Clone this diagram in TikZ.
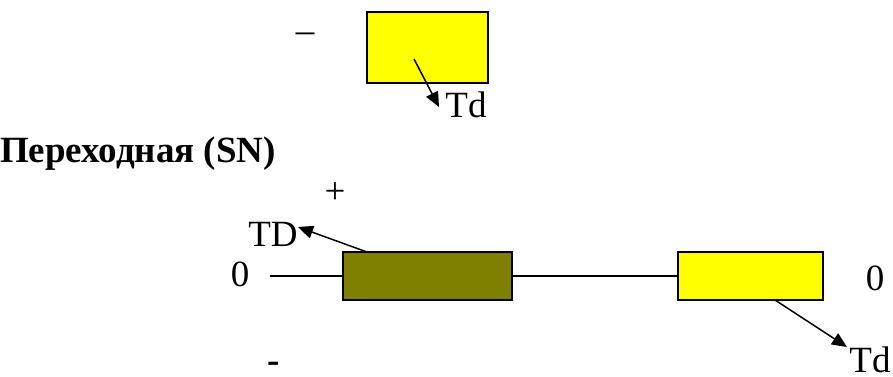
\documentclass[tikz,border=0pt]{standalone}
\usepackage{fontspec}
\setmainfont{Liberation Serif}
\usetikzlibrary{arrows.meta}
\definecolor{yel}{RGB}{255,255,0}
\definecolor{oliv}{RGB}{128,128,0}
\begin{document}
\begin{tikzpicture}[x=1pt,y=-1pt,
  lbl/.style={inner sep=0pt,font=\fontsize{37}{42}\selectfont},
  boxy/.style={draw=black,line width=1.5pt,inner sep=0pt},
  conn/.style={line width=1.3pt},
  arr/.style={line width=1.5pt,-{Triangle[length=15pt,width=13pt]}}]
\path[use as bounding box] (0,0) rectangle (893,376);
\node[boxy,fill=yel,minimum width=121pt,minimum height=71pt] (b1) at (427.5,47.5) {};
\node[boxy,fill=oliv,minimum width=169pt,minimum height=48pt] (b2) at (427.5,276) {};
\node[boxy,fill=yel,minimum width=145pt,minimum height=48pt] (b3) at (750.5,276) {};
\node[lbl] (minus1) at (305,38) {–};
\node[lbl] (td1) at (466,105) {Td};
\node[lbl,anchor=base west,font=\fontsize{37}{42}\selectfont\bfseries] (title) at (0,162) {Переходная (SN)};
\node[lbl] (plus) at (335,193) {+};
\node[lbl] (TD) at (273,234) {TD};
\node[lbl] (z1) at (240,274) {0};
\node[lbl] (z2) at (875,278) {0};
\node[lbl] (td2) at (870,360) {Td};
\node[lbl,font=\fontsize{37}{42}\selectfont\bfseries] (minus2) at (274,367) {-};
\coordinate (l0) at (270,276);
\coordinate (a1s) at (414,59);
\coordinate (a1e) at (439,107);
\coordinate (a2s) at (367,252);
\coordinate (a2e) at (298,227);
\coordinate (a3s) at (775,300);
\coordinate (a3e) at (847,347);
\draw[conn] (l0) -- (b2.west);
\draw[conn] (b2.east) -- (b3.west);
\draw[arr] (a1s) -- (a1e);
\draw[arr] (a2s) -- (a2e);
\draw[arr] (a3s) -- (a3e);
\end{tikzpicture}
\end{document}
